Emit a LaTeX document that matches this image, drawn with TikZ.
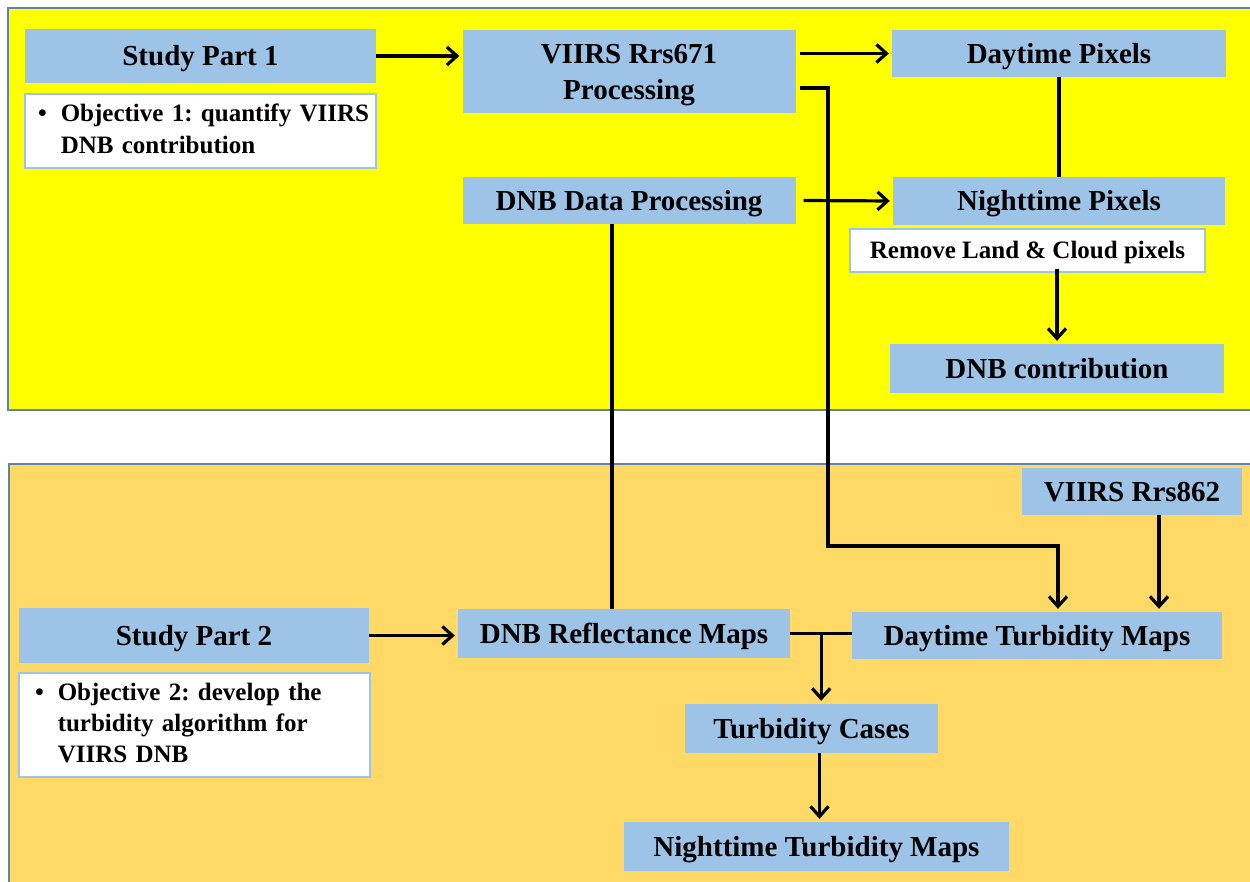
\documentclass[tikz,border=0pt]{standalone}
\usepackage{fontspec}
\setmainfont{Liberation Serif}
\usetikzlibrary{arrows.meta}
\definecolor{boxblue}{HTML}{9DC3E6}
\definecolor{partone}{HTML}{FFFF00}
\definecolor{parttwo}{HTML}{FFD966}
\definecolor{panelline}{HTML}{5F84AC}
\frenchspacing

\begin{document}
\begin{tikzpicture}
      [x=1pt, y=-1pt,
        box/.style={fill=boxblue, inner sep=0pt, align=center,
          text height=19.5pt, text depth=0pt,
          font=\bfseries\fontsize{29}{36}\selectfont},
        note/.style={fill=white, draw=boxblue, line width=1.5pt, inner ysep=0pt,
          align=left, font=\bfseries\fontsize{25}{31}\selectfont},
        panel/.style={draw=panelline, line width=1.2pt},
        wire/.style={line width=3.2pt},
        link/.style={wire, shorten >=3pt,
          -{Straight Barb[length=10pt, width=18pt, line width=3.2pt]}}]
      \clip (0,0) rectangle (1250,882);
      % the two study parts
      \draw[panel, fill=partone] (8,8) rectangle (1262,410);
      \draw[panel, fill=parttwo] (9,464) rectangle (1262,892);

      % part 1
      \node[box, minimum width=351pt, minimum height=54pt] (sp1) at (200.5,56) {Study Part 1};
      \node[note, inner xsep=13pt, text width=325pt, minimum height=74pt,
        font=\bfseries\fontsize{25}{32}\selectfont] (obj1) at (200.5,131)
        {\begin{tabular}{@{}l@{\hspace{14pt}}l@{}}
          \textbullet & Objective 1: quantify VIIRS\\
                      & DNB contribution
        \end{tabular}};
      \node[box, minimum width=333pt, minimum height=83pt, text height=55.5pt] (v671) at (629,71.5)
        {VIIRS Rrs671\\Processing};
      \node[box, minimum width=333pt, minimum height=47pt] (dnbp) at (629,200.5) {DNB Data Processing};
      \node[box, minimum width=334pt, minimum height=47pt] (dayp) at (1059,53.5) {Daytime Pixels};
      \node[box, minimum width=332pt, minimum height=48pt] (nightp) at (1059,201) {Nighttime Pixels};
      \node[note, inner xsep=0pt, minimum width=355pt, minimum height=43pt, align=center,
        text height=16.5pt, text depth=0pt] (remove) at (1027.5,250.5)
        {Remove Land \& Cloud pixels};
      \node[box, minimum width=334pt, minimum height=49pt] (contrib) at (1057,368.5) {DNB contribution};

      % part 2
      \node[box, minimum width=350pt, minimum height=55pt] (sp2) at (194,635.5) {Study Part 2};
      \node[note, inner xsep=16pt, text width=319pt, minimum height=104pt] (obj2) at (194.5,725)
        {\begin{tabular}{@{}l@{\hspace{14pt}}l@{}}
          \textbullet & Objective 2: develop the\\
                      & turbidity algorithm for\\
                      & VIIRS DNB
        \end{tabular}};
      \node[box, minimum width=220pt, minimum height=47pt] (r862) at (1132,491.5) {VIIRS Rrs862};
      \node[box, minimum width=332pt, minimum height=49pt] (refl) at (624,633.5) {DNB Reflectance Maps};
      \node[box, minimum width=370pt, minimum height=47pt] (dturb) at (1037,635.5) {Daytime Turbidity Maps};
      \node[box, minimum width=253pt, minimum height=49pt] (tcases) at (811.5,728.5) {Turbidity Cases};
      \node[box, minimum width=385pt, minimum height=49pt] (nturb) at (816.5,846.5) {Nighttime Turbidity Maps};

      % connectors
      \draw[link] (sp1.east) -- (sp1.east -| v671.west);
      \draw[link] ([xshift=4pt]v671.east |- dayp.west) -- (dayp.west);
      \draw[link] ([xshift=8pt]dnbp.east) -- (nightp.west);
      \draw[wire] (dayp.south) -- (nightp.north);
      \draw[link] ([yshift=4pt]remove.south -| contrib.north) -- (contrib.north);
      \draw[link] ([shift={(4,16.5)}]v671.east) -| (828,546) -| ([xshift=21pt]dturb.north);
      \draw[wire] ([xshift=-17pt]dnbp.south) -- ([xshift=-17pt]dnbp.south |- refl.north);
      \draw[link] (sp2.east) -- (sp2.east -| refl.west);
      \draw[wire] (refl.east) -- (refl.east -| dturb.west);
      \coordinate (split) at ([xshift=31pt]refl.east);
      \draw[link] (split) -- (split |- tcases.north);
      \draw[link] ([xshift=27pt]r862.south) -- ([xshift=27pt]r862.south |- dturb.north);
      \draw[link] ([xshift=8pt]tcases.south) -- ([xshift=8pt]tcases.south |- nturb.north);
    \end{tikzpicture}
\end{document}
